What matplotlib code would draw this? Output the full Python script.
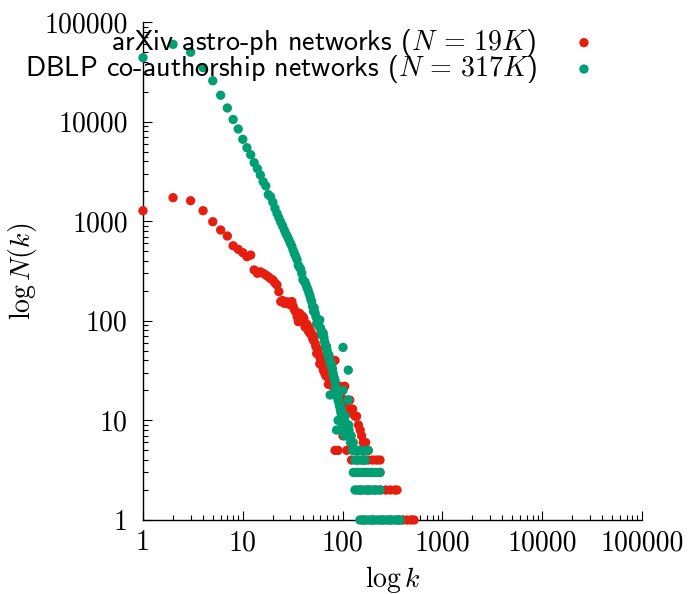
import matplotlib
matplotlib.use("Agg")
import matplotlib.pyplot as plt

plt.rcParams['mathtext.fontset'] = 'cm'
plt.rcParams['axes.unicode_minus'] = False

# arXiv astro-ph (red)
arxiv_k = [1, 2, 3, 4, 5, 6, 7, 8, 9, 10, 11, 12, 13, 14, 15, 16, 17, 18, 19, 20,
           21, 22, 23, 24, 25, 26, 27, 28, 29, 30, 31, 32, 33, 34, 35, 36, 37, 38, 39, 40,
           41, 42, 43, 44, 45, 46, 47, 48, 49, 50, 51, 52, 53, 54, 55, 56, 57, 58, 59, 60,
           61, 62, 63, 64, 65, 66, 67, 68, 69, 70, 72, 73, 75, 77, 80, 84, 87, 90, 94, 97,
           100, 105, 108, 112, 118, 118, 122, 126, 133, 138, 144, 150, 155, 161, 170, 101,
           84, 90, 110, 140, 160, 181,
           123, 140, 160, 180, 200, 219, 237,
           140, 170, 200, 237,
           150, 180, 210, 240, 270, 300, 334, 351,
           160, 200, 250, 300, 360, 400, 440, 480, 520]
arxiv_n = [1275, 1722, 1607, 1275, 988, 816, 710, 567, 522, 483, 440, 457, 324, 300, 310, 300, 288, 277, 265, 257,
           240, 229, 196, 156, 160, 150, 150, 155, 150, 144, 156, 140, 128, 123, 110, 98, 119, 115, 105, 110,
           105, 87, 87, 92, 80, 85, 75, 78, 72, 67, 64, 70, 60, 55, 47, 52, 51, 45, 37, 42,
           40, 39, 35, 32, 34, 30, 33, 28, 33, 30, 23, 26, 24, 27, 22, 40, 20, 18, 22, 17,
           15, 22, 14, 16, 16, 13, 12, 13, 11, 11, 9, 8, 7, 6, 6, 7,
           5, 5, 5, 5, 5, 5,
           4, 4, 4, 4, 4, 4, 4,
           3, 3, 3, 3,
           2, 2, 2, 2, 2, 2, 2, 2,
           1, 1, 1, 1, 1, 1, 1, 1, 1]

# DBLP co-authorship (green)
dblp_k = [1, 2, 3, 4, 5, 6, 7, 8, 9, 10, 11, 12, 13, 14, 15, 16, 17, 18, 19, 20,
          21, 22, 23, 24, 25, 26, 27, 28, 29, 30, 31, 32, 33, 34, 35, 36, 37, 38, 39, 40,
          41, 42, 43, 44, 45, 46, 47, 48, 49, 50, 51, 52, 53, 54, 55, 56, 57, 58, 59, 60,
          61, 62, 63, 64, 65, 66, 67, 68, 69, 70, 71, 72, 73, 74, 75, 76, 77, 78, 79, 80,
          81, 82, 83, 84, 85, 86, 87, 88, 89, 90, 91, 92, 93, 94, 95, 96, 97, 98, 99, 100,
          101, 101, 102, 104, 105, 106, 108, 110, 112, 114, 114, 115, 116, 118, 120, 122,
          124, 126, 128, 130, 133, 136, 140, 145, 150, 155, 160, 165, 168, 175, 180,
          75, 87, 90, 95, 100, 105,
          128, 135, 142, 150, 160, 170, 180, 190, 200, 212, 225, 237,
          133, 140, 148, 156, 165, 175, 185, 196, 208, 220, 237,
          149, 158, 167, 177, 188, 200, 212, 225, 238, 252, 268, 284, 300, 320, 340, 360, 376]
dblp_n = [43800, 59700, 49700, 34800, 25700, 18400, 13700, 10500, 8430, 6640, 5470, 4650, 3870, 3370, 2910, 2490, 2260, 1850, 1762, 1550,
          1350, 1200, 1080, 980, 900, 820, 750, 700, 650, 600, 560, 510, 470, 440, 410, 360, 345, 330, 300, 260,
          250, 245, 230, 215, 205, 190, 180, 165, 156, 140, 125, 135, 120, 110, 94, 100, 96, 88, 102, 85,
          80, 72, 76, 75, 68, 62, 58, 56, 55, 50, 47, 44, 45, 40, 38, 36, 37, 35, 33, 30,
          28, 27, 26, 25, 22, 21, 19, 20, 17, 16, 18, 15, 14, 14, 13, 12, 13, 11, 12, 10,
          54, 20, 11, 10, 9, 11, 9, 8, 7, 32, 16, 9, 8, 7, 6, 7,
          6, 5, 6, 5, 4, 5, 4, 5, 4, 5, 4, 4, 4, 5, 5,
          18, 8, 10, 8, 9, 7,
          3, 3, 3, 3, 3, 3, 3, 3, 3, 3, 3, 3,
          2, 2, 2, 2, 2, 2, 2, 2, 2, 2, 2,
          1, 1, 1, 1, 1, 1, 1, 1, 1, 1, 1, 1, 1, 1, 1, 1, 1]

ticks = [1, 10, 100, 1000, 10000, 100000]
tick_labels = ["1", "10", "100", "1000", "10000", "100000"]

red = "#e51e10"
green = "#009e73"

fig = plt.figure(figsize=(6.88, 5.94), dpi=100)
ax = fig.add_axes([143 / 688, 1 - 520 / 594, (642 - 143) / 688, (520 - 22) / 594])

ax.scatter(arxiv_k, arxiv_n, s=45, color=red, edgecolors="none", clip_on=False, zorder=3,
           label=r"arXiv astro-ph networks ($N\,=\,19K$)")
ax.scatter(dblp_k, dblp_n, s=45, color=green, edgecolors="none", clip_on=False, zorder=4,
           label=r"DBLP co-authorship networks ($N\,=\,317K$)")

ax.set_xscale("log")
ax.set_yscale("log")
ax.set_xlim(1, 100000)
ax.set_ylim(1, 100000)

ax.spines["top"].set_visible(False)
ax.spines["right"].set_visible(False)
for sp in ("left", "bottom"):
    ax.spines[sp].set_linewidth(1.0)

ax.set_xticks(ticks, tick_labels, fontfamily="cmr10", fontsize=20)
ax.set_yticks(ticks, tick_labels, fontfamily="cmr10", fontsize=20)
ax.tick_params(which="major", direction="in", length=6.5, width=0.8)
ax.tick_params(which="minor", direction="in", length=3.6, width=0.8)
ax.tick_params(axis="x", which="major", pad=7)
ax.tick_params(axis="y", which="major", pad=11)

ax.set_xlabel(r"$\log k$", fontsize=20, labelpad=6)
ax.set_ylabel(r"$\log N(k)$", fontsize=20, labelpad=4)

leg = ax.legend(loc="upper right", bbox_to_anchor=(612 / 688, 1 - 27 / 594),
                bbox_transform=fig.transFigure, frameon=False, markerfirst=False,
                borderaxespad=0, borderpad=0, labelspacing=-0.2, handlelength=2.0,
                handletextpad=0.68, prop={"family": "cmss10", "size": 20.2}, scatterpoints=1)

fig.savefig("out.png", dpi=100)
